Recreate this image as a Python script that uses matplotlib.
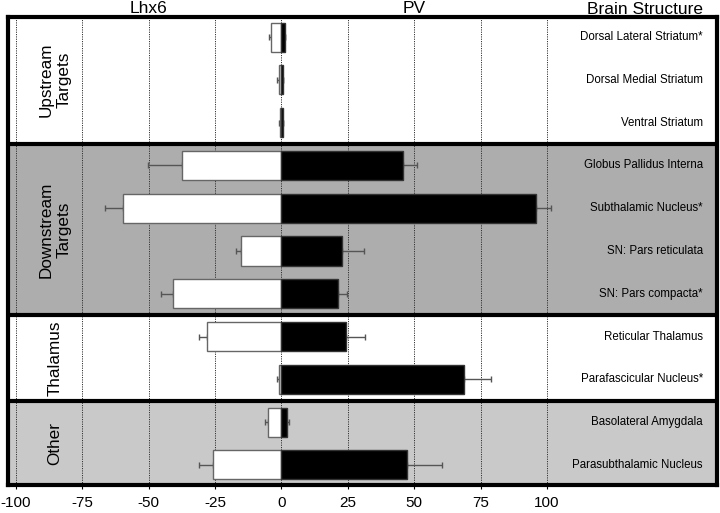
import numpy as np
import matplotlib
matplotlib.use("Agg")
import matplotlib.pyplot as plt

plt.rcParams['font.family'] = ['Liberation Sans', 'DejaVu Sans']

# Estructuras (de arriba hacia abajo)
estructuras = [
    "Dorsal Lateral Striatum*",
    "Dorsal Medial Striatum",
    "Ventral Striatum",
    "Globus Pallidus Interna",
    "Subthalamic Nucleus*",
    "SN: Pars reticulata",
    "SN: Pars compacta*",
    "Reticular Thalamus",
    "Parafascicular Nucleus*",
    "Basolateral Amygdala",
    "Parasubthalamic Nucleus",
]

# Valores Lhx6 (negativos) y PV (positivos), con error
lhx6 = [-3.8, -1.0, -0.6, -37.3, -59.8, -15.2, -40.8, -28.0, -0.9, -5.0, -25.7]
lhx6_err = [1.0, 0.6, 0.3, 12.9, 6.7, 2.0, 4.7, 3.1, 0.7, 1.3, 5.3]
pv = [1.2, 0.4, 0.4, 45.8, 96.0, 22.7, 21.3, 24.2, 68.7, 2.1, 47.4]
pv_err = [0.0, 0.0, 0.3, 5.4, 5.6, 8.5, 3.4, 7.4, 10.3, 0.8, 12.9]

# Grupos: nombre, primera fila, ultima fila, color de fondo
grupos = ["Upstream\nTargets", "Downstream\nTargets", "Thalamus", "Other"]
grupo_inicio = [0, 3, 7, 9]
grupo_fin = [2, 6, 8, 10]
grupo_color = ["#ffffff", "#adadad", "#ffffff", "#c9c9c9"]

ticks = [-100, -75, -50, -25, 0, 25, 50, 75, 100]


def main():
    fig = plt.figure(figsize=(7.2, 5.13), dpi=100)
    ax = fig.add_axes([0.0111, 0.0546, 0.9847, 0.9123])

    n = len(estructuras)
    y = np.arange(n)

    # Fondos de grupos
    for nombre, ini, fin, col in zip(grupos, grupo_inicio, grupo_fin, grupo_color):
        ax.axhspan(ini - 0.5, fin + 0.5, color=col, zorder=0)
        ax.text(-85.3, (ini + fin) / 2, nombre, rotation=90, ha="center", va="center",
                fontsize=12.3, linespacing=1.3, multialignment="center", zorder=5)

    # Lineas de grilla punteadas
    for t in ticks:
        ax.axvline(t, color="#333333", linestyle=(0, (1.2, 1.2)), linewidth=0.7, zorder=1)

    altura = 0.68
    ax.barh(y, lhx6, height=altura, color="white", edgecolor="#666666", linewidth=1.0, zorder=3)
    ax.barh(y, pv, height=altura, color="black", edgecolor="#333333", linewidth=1.0, zorder=3)

    # Barras de error hacia afuera
    ax.errorbar(lhx6, y, xerr=[lhx6_err, np.zeros(n)], fmt="none", ecolor="#555555",
                elinewidth=1.0, capsize=2.5, capthick=1.0, zorder=2)
    ax.errorbar(pv, y, xerr=[np.zeros(n), pv_err], fmt="none", ecolor="#555555",
                elinewidth=1.0, capsize=2.5, capthick=1.0, zorder=2)

    # Bordes gruesos entre grupos
    for fin in grupo_fin[:-1]:
        ax.axhline(fin + 0.5, color="black", linewidth=3, zorder=6)

    # Nombres de estructuras
    for i, nombre in enumerate(estructuras):
        ax.text(0.980, 1 - (i + 0.47) / (n - 1 + 0.94), nombre, transform=ax.transAxes,
                ha="right", va="center", fontsize=8.3, zorder=5)

    # Encabezados
    ax.text(-50, -0.5, "Lhx6", ha="center", va="bottom", fontsize=12.5, clip_on=False)
    ax.text(50, -0.5, "PV", ha="center", va="bottom", fontsize=12.5, clip_on=False)
    ax.text(0.98, 1.0, "Brain Structure", ha="right", va="bottom", fontsize=12.5,
            transform=ax.transAxes)

    ax.set_xlim(-103, 164)
    ax.set_ylim(n - 1 + 0.47, -0.47)
    ax.set_xticks(ticks)
    ax.set_xticklabels([str(t) for t in ticks], fontsize=11)
    ax.set_yticks([])
    ax.tick_params(axis="x", length=3, width=0.8, pad=5)

    for s in ax.spines.values():
        s.set_linewidth(3)
        s.set_zorder(7)

    fig.savefig("out.png", dpi=100)


if __name__ == "__main__":
    main()
